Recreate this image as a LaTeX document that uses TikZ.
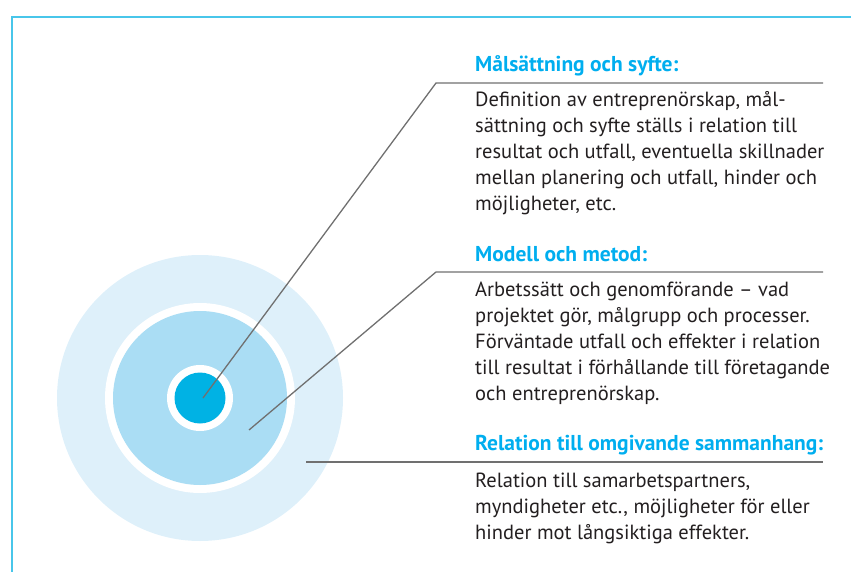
\documentclass[tikz,border=0pt]{standalone}
\usepackage{fontspec}
\setmainfont{PT Sans}
\usepackage{tikz}
\definecolor{framecyan}{RGB}{72,198,234}
\definecolor{headcyan}{RGB}{0,174,239}
\definecolor{ringcore}{RGB}{0,178,228}
\definecolor{ringmid}{RGB}{170,221,244}
\definecolor{ringout}{RGB}{222,240,250}
\definecolor{leadgray}{RGB}{112,112,112}
\definecolor{bodyblack}{RGB}{35,31,32}
\tikzstyle{leader} = [leadgray, line width=1.3pt]

\begin{document}
\begin{tikzpicture}[x=1pt, y=-1pt,
    head/.style={anchor=base west, inner sep=0pt, text=headcyan, font=\fontsize{21.5}{26}\selectfont\bfseries},
    body/.style={anchor=base west, inner sep=0pt, align=left, text=bodyblack, font=\fontsize{20.5}{26}\selectfont}]
    \useasboundingbox (0,0) rectangle (851,572);
    \draw[framecyan, line width=1.8pt] (12,572) -- (12,17) -- (851,17);

    \fill[ringout] (200,398) circle (143);
    \fill[white] (200,398) circle (95);
    \fill[ringmid] (200,398) circle (87);
    \fill[white] (200,398) circle (33);
    \fill[ringcore] (200,398) circle (25.5);

    \node[head] (goal) at (475,72) {Målsättning och syfte:};
    \node[body] (goaltext) at (475,211) {Definition av entreprenörskap, mål-\\
    sättning och syfte ställs i relation till\\
    resultat och utfall, eventuella skillnader\\
    mellan planering och utfall, hinder och\\
    möjligheter, etc.};
    \node[head] (model) at (475,261) {Modell och metod:};
    \node[body] (modeltext) at (475,400) {Arbetssätt och genomförande – vad\\
    projektet gör, målgrupp och processer.\\
    Förväntade utfall och effekter i relation\\
    till resultat i förhållande till företagande\\
    och entreprenörskap.};
    \node[head] (context) at (475,450) {Relation till omgivande sammanhang:};
    \node[body] (contexttext) at (475,539) {Relation till samarbetspartners,\\
    myndigheter etc., möjligheter för eller\\
    hinder mot långsiktiga effekter.};

    \coordinate (core) at (203,398);
    \coordinate (mid) at (249,430);
    \coordinate (outer) at (306,462);
    \coordinate (goalbend) at (436,83);
    \coordinate (goalend) at (823,83);
    \coordinate (modelbend) at (436,272);
    \coordinate (modelend) at (823,272);
    \coordinate (contextend) at (823,462);
    \draw[leader] (core) -- (goalbend) -- (goalend);
    \draw[leader] (mid) -- (modelbend) -- (modelend);
    \draw[leader] (outer) -- (contextend);
\end{tikzpicture}
\end{document}
